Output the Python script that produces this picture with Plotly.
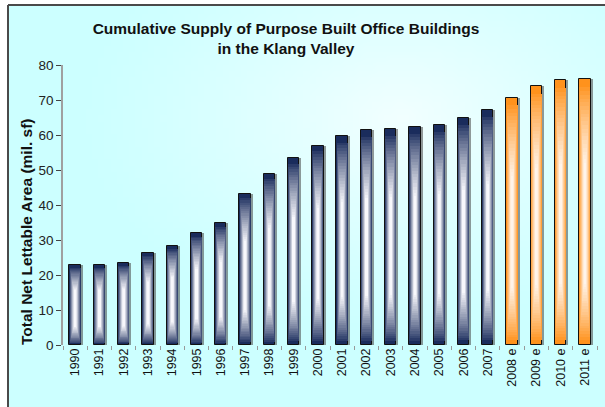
import base64
import struct
import zlib

import plotly.graph_objects as go

# ---------------- data ----------------
categories = ["1990", "1991", "1992", "1993", "1994", "1995", "1996", "1997",
              "1998", "1999", "2000", "2001", "2002", "2003", "2004", "2005",
              "2006", "2007", "2008 e", "2009 e", "2010 e", "2011 e"]
supply = [22.8, 22.8, 23.3, 26.2, 28.2, 31.9, 34.8, 43.2, 48.9, 53.3, 57.0,
          59.6, 61.3, 61.6, 62.2, 62.8, 64.8, 67.1, 70.5, 74.0, 75.6, 75.9]
is_estimate = [c.endswith("e") for c in categories]

title_text = "Cumulative Supply of Purpose Built Office Buildings<br>in the Klang Valley"
y_title = "Total Net Lettable Area (mil. sf)"

# ---------------- styling helpers ----------------
NAVY_DARK = (26, 44, 92)
NAVY_LIGHT = (248, 248, 252)
ORANGE_DARK = (255, 146, 28)
ORANGE_LIGHT = (255, 244, 234)


def lerp(a, b, t):
    return tuple(int(round(a[i] + (b[i] - a[i]) * t)) for i in range(3))


def rgb(c):
    return "rgb(%d,%d,%d)" % c


def gradient_png(w, h):
    edge = (204, 255, 255)
    centre = (242, 255, 255)
    rows = []
    for j in range(h):
        row = bytearray([0])
        for i in range(w):
            dx = (i / (w - 1) - 0.66) / 0.55
            dy = (j / (h - 1) - 0.28) / 0.55
            d = (dx * dx + dy * dy) ** 0.5
            t = max(0.0, 1.0 - d)
            t = t ** 1.2
            row += bytes(lerp(edge, centre, t))
        rows.append(bytes(row))
    raw = b"".join(rows)

    def chunk(tag, data):
        return (struct.pack(">I", len(data)) + tag + data +
                struct.pack(">I", zlib.crc32(tag + data) & 0xffffffff))

    png = b"\x89PNG\r\n\x1a\n"
    png += chunk(b"IHDR", struct.pack(">IIBBBBB", w, h, 8, 2, 0, 0, 0))
    png += chunk(b"IDAT", zlib.compress(raw, 9))
    png += chunk(b"IEND", b"")
    return "data:image/png;base64," + base64.b64encode(png).decode()


# ---------------- figure ----------------
fig = go.Figure()

BAR_W = 0.47
N_LAYERS = 22

# drop shadow
fig.add_trace(go.Bar(
    x=categories, y=supply, width=BAR_W, offset=-BAR_W / 2 + 0.08,
    marker=dict(color="rgba(70,70,70,0.55)", line=dict(width=0)),
    hoverinfo="skip", showlegend=False,
))

for k in range(N_LAYERS):
    s = k / (N_LAYERS - 1)
    tcol = s ** 0.85
    w = BAR_W * (1 - 0.80 * s)
    bot_frac = 0.01 + 0.22 * s
    top_frac = 0.015 + 0.30 * s
    colors = [rgb(lerp(ORANGE_DARK, ORANGE_LIGHT, tcol)) if e
              else rgb(lerp(NAVY_DARK, NAVY_LIGHT, tcol)) for e in is_estimate]
    if k == 0:
        base = [0 for v in supply]
        heights = supply
        line = dict(color="#111111", width=1)
    else:
        base = [v * bot_frac for v in supply]
        heights = [v * (1 - bot_frac - top_frac) for v in supply]
        line = dict(width=0)
    fig.add_trace(go.Bar(
        x=categories, y=heights, base=base, width=w,
        marker=dict(color=colors, line=line),
        hoverinfo="skip" if k else "x+y", showlegend=False,
    ))

# plot geometry (px): plot area x 63..597, y 65..345
L, R, T, B = 63, 8, 65, 62
W_PLOT = 605 - L - R
H_PLOT = 407 - T - B


def px_to_paper_x(px):
    return (px - L) / W_PLOT


def px_to_paper_y(py):
    return (407 - B - py) / H_PLOT


frame_line = dict(color="#4a4a4a", width=2)

fig.update_layout(
    width=605, height=407,
    margin=dict(l=L, r=R, t=T, b=B),
    paper_bgcolor="white",
    plot_bgcolor="rgba(0,0,0,0)",
    barmode="overlay",
    bargap=0,
    font=dict(family="Liberation Sans, Arial, sans-serif", color="#111111"),
    title=dict(
        text="<b>" + title_text + "</b>",
        x=px_to_paper_x(286), xref="paper", xanchor="center",
        y=1 - 33.5 / 407, yref="container", yanchor="middle",
        font=dict(size=15.5, color="#111111",
                  family="Liberation Sans, Arial, sans-serif"),
    ),
    xaxis=dict(
        type="category",
        range=[-0.5, len(categories) - 0.5],
        tickangle=-90,
        ticks="outside", tickson="boundaries", ticklen=4,
        tickcolor="#999999", tickwidth=1,
        showline=False, showgrid=False, zeroline=False,
        tickfont=dict(size=12.5, color="#111111"),
    ),
    yaxis=dict(
        range=[0, 80],
        tickvals=[0, 10, 20, 30, 40, 50, 60, 70, 80],
        ticks="outside", ticklen=5, tickcolor="#444444",
        showline=True, linecolor="#a0a0a0", linewidth=1.5,
        showgrid=False, zeroline=False,
        tickfont=dict(size=13.5, color="#222222"),
    ),
    annotations=[dict(
        text="<b>" + y_title + "</b>",
        xref="paper", yref="paper",
        x=px_to_paper_x(26), y=px_to_paper_y(232),
        xanchor="center", yanchor="middle",
        textangle=-90, showarrow=False,
        font=dict(size=15.5, color="#111111",
                  family="Liberation Sans, Arial, sans-serif"),
    )],
    images=[dict(
        source=gradient_png(96, 64),
        xref="paper", yref="paper",
        x=px_to_paper_x(8), y=px_to_paper_y(5),
        sizex=(605 - 8) / W_PLOT, sizey=(407 - 5) / H_PLOT,
        xanchor="left", yanchor="top",
        sizing="stretch", layer="below",
    )],
    shapes=[
        dict(type="line", xref="paper", yref="paper",
             x0=px_to_paper_x(8), x1=px_to_paper_x(8),
             y0=px_to_paper_y(407), y1=px_to_paper_y(5),
             line=frame_line, layer="above"),
        dict(type="line", xref="paper", yref="paper",
             x0=px_to_paper_x(8), x1=px_to_paper_x(605),
             y0=px_to_paper_y(5), y1=px_to_paper_y(5),
             line=frame_line, layer="above"),
    ],
)

fig.write_html(
    "out.html",
    config={"displayModeBar": False},
    post_script="document.body.style.margin='0';"
                "document.body.style.overflow='hidden';",
)
